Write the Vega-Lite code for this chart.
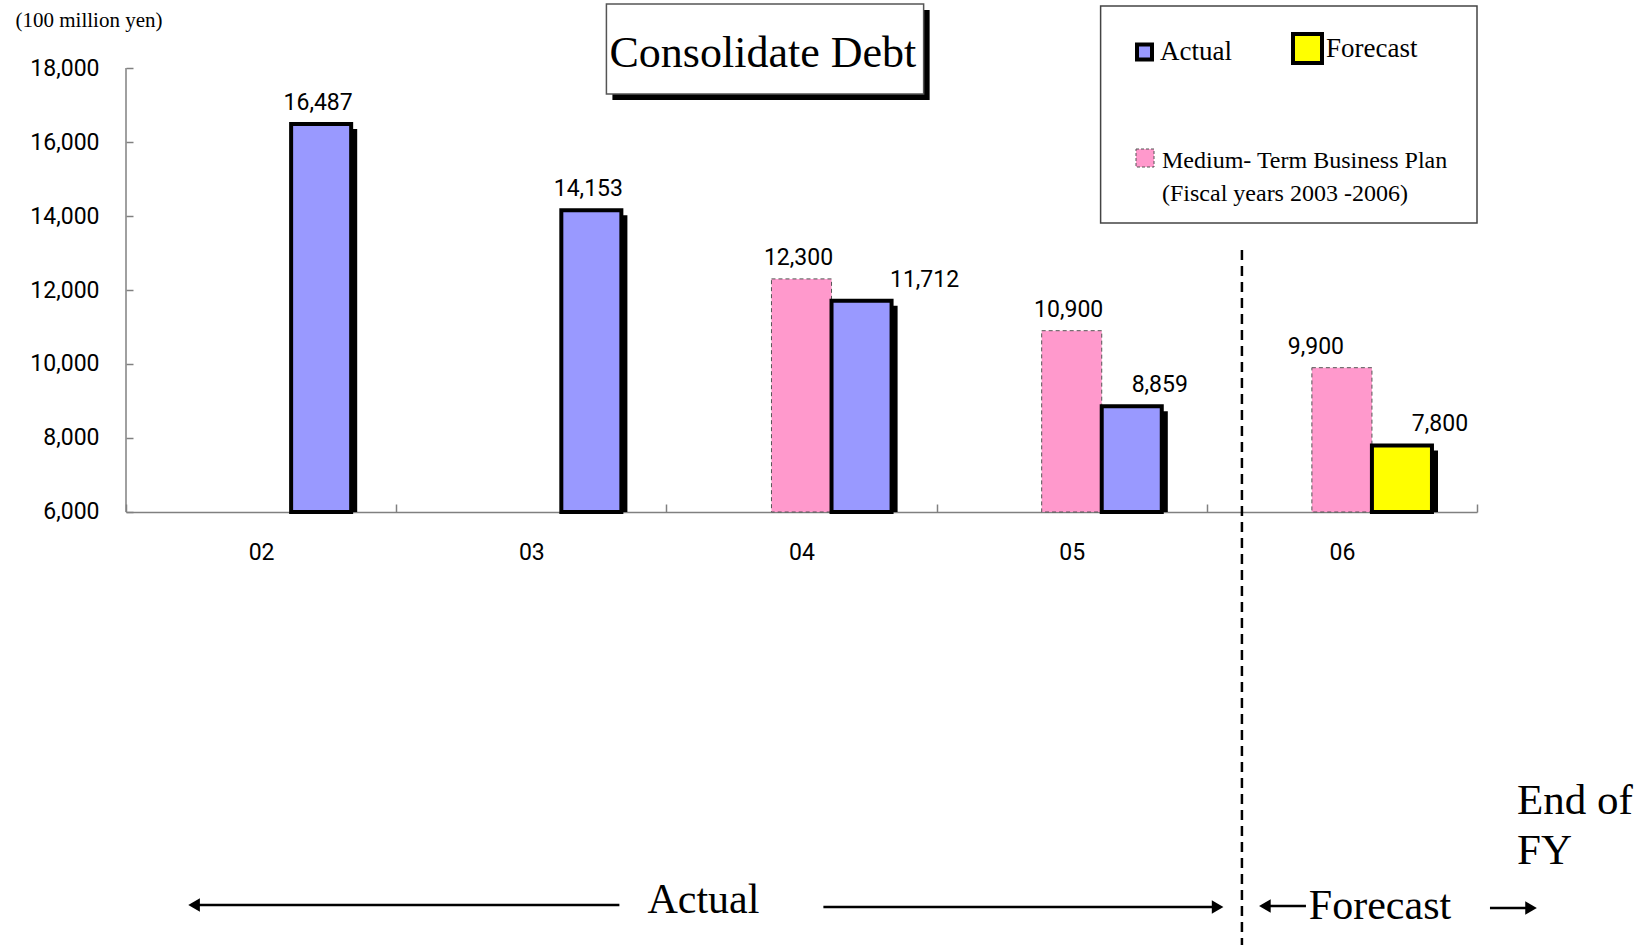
{
  "$schema": "https://vega.github.io/schema/vega-lite/v6.json",
  "width": 1351,
  "height": 945,
  "autosize": {"type": "none"},
  "padding": {"left": 126, "top": 0, "right": 168, "bottom": 0},
  "background": "white",
  "config": {"view": {"stroke": null}},
  "resolve": {"scale": {"xOffset": "independent"}},
  "data": {
    "values": [
      {"fy": "02", "series": "Actual", "kind": "Result", "value": 16487},
      {"fy": "03", "series": "Actual", "kind": "Result", "value": 14153},
      {"fy": "04", "series": "Plan", "kind": "Plan", "value": 12300},
      {"fy": "04", "series": "Actual", "kind": "Result", "value": 11712},
      {"fy": "05", "series": "Plan", "kind": "Plan", "value": 10900},
      {"fy": "05", "series": "Actual", "kind": "Result", "value": 8859},
      {"fy": "06", "series": "Plan", "kind": "Plan", "value": 9900},
      {"fy": "06", "series": "Forecast", "kind": "Result", "value": 7800}
    ]
  },
  "encoding": {
    "x": {
      "field": "fy", "type": "nominal",
      "scale": {"domain": ["02", "03", "04", "05", "06"], "paddingInner": 0, "paddingOuter": 0},
      "axis": {
        "title": null, "orient": "bottom", "offset": -433, "tickBand": "extent",
        "tickSize": -8, "tickColor": "#808080", "tickWidth": 1.5,
        "domainColor": "#808080", "domainWidth": 1.5,
        "labelFont": "Roboto", "labelFontSize": 23, "labelColor": "black",
        "labelPadding": 37, "labelAngle": 0, "grid": false
      }
    },
    "y": {
      "field": "value", "type": "quantitative",
      "scale": {"domain": [-5703, 19838], "nice": false, "zero": false},
      "axis": {
        "title": "(100 million yen)", "titleAngle": 0, "titleX": -111, "titleY": 20,
        "titleAlign": "left", "titleBaseline": "middle", "titleFont": "Liberation Serif",
        "titleFontSize": 21, "titleFontWeight": "normal", "titleColor": "black",
        "values": [6000, 8000, 10000, 12000, 14000, 16000, 18000], "format": ",d",
        "domain": false, "tickSize": -7, "tickColor": "#808080", "tickWidth": 1.5,
        "labelFont": "Roboto", "labelFontSize": 23, "labelColor": "black",
        "labelPadding": 34, "grid": false
      }
    }
  },
  "layer": [
    {
      "transform": [{"filter": "datum.fy == '02'"}],
      "mark": {"type": "rule", "color": "#808080", "strokeWidth": 1.5},
      "encoding": {
        "x": {"datum": "02", "bandPosition": 0},
        "y": {"datum": 6000},
        "y2": {"datum": 18000}
      }
    },
    {
      "transform": [{"filter": "datum.kind == 'Plan'"}],
      "mark": {"type": "bar", "stroke": "#555555", "strokeWidth": 1, "strokeDash": [4, 3]},
      "encoding": {
        "xOffset": {"field": "kind", "type": "nominal", "scale": {"type": "band", "domain": ["_", "Plan", "Result"], "paddingInner": 0, "paddingOuter": 0.75}},
        "y2": {"datum": 6000},
        "fill": {
          "field": "series", "type": "nominal",
          "scale": {"domain": ["Plan"], "range": ["#FF99CC"]},
          "legend": {
            "title": null, "orient": "none", "legendX": 1007, "legendY": 146,
            "symbolType": "square", "symbolSize": 324, "symbolStrokeColor": "#555555",
            "symbolStrokeWidth": 1, "symbolDash": [3, 2], "symbolOpacity": 1,
            "labelFont": "Liberation Serif", "labelFontSize": 24, "labelColor": "black",
            "labelOffset": 5, "labelLimit": 400, "labelBaseline": "alphabetic",
            "labelExpr": "['Medium- Term Business Plan', '(Fiscal years 2003 -2006)']",
            "encode": {"labels": {"update": {"lineHeight": {"value": 33}, "dy": {"value": 10}}}}
          }
        }
      }
    },
    {
      "transform": [{"filter": "datum.kind == 'Result'"}],
      "mark": {"type": "bar", "color": "black", "yOffset": 5},
      "encoding": {
        "xOffset": {"field": "kind", "type": "nominal", "scale": {"type": "band", "domain": ["_", "Plan", "Result"], "paddingInner": 0, "paddingOuter": 0.75, "align": 0.567}},
        "y2": {"datum": 6000}
      }
    },
    {
      "transform": [{"filter": "datum.kind == 'Result'"}],
      "mark": {"type": "bar", "stroke": "black", "strokeWidth": 4},
      "encoding": {
        "xOffset": {"field": "kind", "type": "nominal", "scale": {"type": "band", "domain": ["_", "Plan", "Result"], "paddingInner": 0, "paddingOuter": 0.75}},
        "y2": {"datum": 6000},
        "color": {
          "field": "series", "type": "nominal",
          "scale": {"domain": ["Actual", "Forecast"], "range": ["#9999FF", "#FFFF00"]},
          "legend": {
            "title": null, "orient": "none", "legendX": 1005, "legendY": 35,
            "direction": "horizontal", "columnPadding": 53,
            "symbolType": "square", "symbolSize": 225, "symbolStrokeColor": "black",
            "symbolStrokeWidth": 4, "symbolOpacity": 1,
            "labelFont": "Liberation Serif", "labelFontSize": 27, "labelColor": "black",
            "labelOffset": 2,
            "encode": {
              "symbols": {"update": {"size": {"signal": "datum.value === 'Forecast' ? 841 : 225"}}},
              "labels": {"update": {"dx": {"signal": "datum.value === 'Forecast' ? 3 : 0"}}}
            }
          }
        }
      }
    },
    {
      "transform": [{"filter": "datum.kind == 'Plan' && datum.fy != '06'"}],
      "mark": {"type": "text", "baseline": "alphabetic", "dy": -14, "dx": -3, "fontSize": 23, "font": "Roboto", "color": "black"},
      "encoding": {
        "xOffset": {"field": "kind", "type": "nominal", "scale": {"type": "band", "domain": ["_", "Plan", "Result"], "paddingInner": 0, "paddingOuter": 0.75}},
        "text": {"field": "value", "type": "quantitative", "format": ","}
      }
    },
    {
      "transform": [{"filter": "datum.kind == 'Plan' && datum.fy == '06'"}],
      "mark": {"type": "text", "baseline": "alphabetic", "dy": -14, "dx": -26, "fontSize": 23, "font": "Roboto", "color": "black"},
      "encoding": {
        "xOffset": {"field": "kind", "type": "nominal", "scale": {"type": "band", "domain": ["_", "Plan", "Result"], "paddingInner": 0, "paddingOuter": 0.75}},
        "text": {"field": "value", "type": "quantitative", "format": ","}
      }
    },
    {
      "transform": [{"filter": "datum.kind == 'Result' && (datum.fy == '02' || datum.fy == '03')"}],
      "mark": {"type": "text", "baseline": "alphabetic", "dy": -14, "dx": -3, "fontSize": 23, "font": "Roboto", "color": "black"},
      "encoding": {
        "xOffset": {"field": "kind", "type": "nominal", "scale": {"type": "band", "domain": ["_", "Plan", "Result"], "paddingInner": 0, "paddingOuter": 0.75}},
        "text": {"field": "value", "type": "quantitative", "format": ","}
      }
    },
    {
      "transform": [{"filter": "datum.kind == 'Result' && datum.fy == '04'"}],
      "mark": {"type": "text", "baseline": "alphabetic", "dy": -14, "dx": 63, "fontSize": 23, "font": "Roboto", "color": "black"},
      "encoding": {
        "xOffset": {"field": "kind", "type": "nominal", "scale": {"type": "band", "domain": ["_", "Plan", "Result"], "paddingInner": 0, "paddingOuter": 0.75}},
        "text": {"field": "value", "type": "quantitative", "format": ","}
      }
    },
    {
      "transform": [{"filter": "datum.kind == 'Result' && datum.fy == '05'"}],
      "mark": {"type": "text", "baseline": "alphabetic", "dy": -14, "dx": 28, "fontSize": 23, "font": "Roboto", "color": "black"},
      "encoding": {
        "xOffset": {"field": "kind", "type": "nominal", "scale": {"type": "band", "domain": ["_", "Plan", "Result"], "paddingInner": 0, "paddingOuter": 0.75}},
        "text": {"field": "value", "type": "quantitative", "format": ","}
      }
    },
    {
      "transform": [{"filter": "datum.kind == 'Result' && datum.fy == '06'"}],
      "mark": {"type": "text", "baseline": "alphabetic", "dy": -14, "dx": 38, "fontSize": 23, "font": "Roboto", "color": "black"},
      "encoding": {
        "xOffset": {"field": "kind", "type": "nominal", "scale": {"type": "band", "domain": ["_", "Plan", "Result"], "paddingInner": 0, "paddingOuter": 0.75}},
        "text": {"field": "value", "type": "quantitative", "format": ","}
      }
    },
    {
      "transform": [{"filter": "datum.fy == '02'"}],
      "mark": {"type": "rect", "color": "black", "xOffset": 6, "x2Offset": 6, "yOffset": 6, "y2Offset": 6},
      "encoding": {
        "x": {"datum": "03", "bandPosition": 0.778},
        "x2": {"datum": "04", "bandPosition": 0.952},
        "y": {"datum": 19730},
        "y2": {"datum": 17297}
      }
    },
    {
      "transform": [{"filter": "datum.fy == '02'"}],
      "mark": {"type": "rect", "fill": "white", "stroke": "#555555", "strokeWidth": 1.5},
      "encoding": {
        "x": {"datum": "03", "bandPosition": 0.778},
        "x2": {"datum": "04", "bandPosition": 0.952},
        "y": {"datum": 19730},
        "y2": {"datum": 17297}
      }
    },
    {
      "transform": [{"filter": "datum.fy == '02'"}],
      "mark": {"type": "text", "font": "Liberation Serif", "fontSize": 44, "align": "center", "baseline": "alphabetic", "color": "black"},
      "encoding": {
        "x": {"datum": "04", "bandPosition": 0.357},
        "y": {"datum": 18027},
        "text": {"value": "Consolidate Debt"}
      }
    },
    {
      "transform": [{"filter": "datum.fy == '02'"}],
      "mark": {"type": "rect", "fill": "white", "stroke": "#444444", "strokeWidth": 1.5},
      "encoding": {
        "x": {"datum": "05", "bandPosition": 0.607},
        "x2": {"datum": "06", "bandPosition": 1},
        "y": {"datum": 19676},
        "y2": {"datum": 13811}
      }
    },
    {
      "transform": [{"filter": "datum.fy == '02'"}],
      "mark": {"type": "rule", "color": "black", "strokeWidth": 2.5, "strokeDash": [10, 6]},
      "encoding": {
        "x": {"datum": "06", "bandPosition": 0.13},
        "y": {"datum": 13081},
        "y2": {"datum": -6000}
      }
    },
    {
      "transform": [{"filter": "datum.fy == '02'"}],
      "mark": {"type": "rule", "color": "black", "strokeWidth": 2.5},
      "encoding": {
        "x": {"datum": "02", "bandPosition": 0.252},
        "x2": {"datum": "03", "bandPosition": 0.826},
        "y": {"datum": -4622}
      }
    },
    {
      "transform": [{"filter": "datum.fy == '02'"}],
      "mark": {"type": "point", "shape": "triangle-left", "filled": true, "color": "black", "size": 180, "opacity": 1},
      "encoding": {
        "x": {"datum": "02", "bandPosition": 0.252},
        "y": {"datum": -4622}
      }
    },
    {
      "transform": [{"filter": "datum.fy == '02'"}],
      "mark": {"type": "rule", "color": "black", "strokeWidth": 2.5},
      "encoding": {
        "x": {"datum": "04", "bandPosition": 0.581},
        "x2": {"datum": "06", "bandPosition": 0.04},
        "y": {"datum": -4676}
      }
    },
    {
      "transform": [{"filter": "datum.fy == '02'"}],
      "mark": {"type": "point", "shape": "triangle-right", "filled": true, "color": "black", "size": 180, "opacity": 1},
      "encoding": {
        "x": {"datum": "06", "bandPosition": 0.04},
        "y": {"datum": -4676}
      }
    },
    {
      "transform": [{"filter": "datum.fy == '02'"}],
      "mark": {"type": "text", "font": "Liberation Serif", "fontSize": 42, "align": "center", "baseline": "middle", "color": "black"},
      "encoding": {
        "x": {"datum": "04", "bandPosition": 0.137},
        "y": {"datum": -4486},
        "text": {"value": "Actual"}
      }
    },
    {
      "transform": [{"filter": "datum.fy == '02'"}],
      "mark": {"type": "rule", "color": "black", "strokeWidth": 2.5},
      "encoding": {
        "x": {"datum": "06", "bandPosition": 0.215},
        "x2": {"datum": "06", "bandPosition": 0.367},
        "y": {"datum": -4649}
      }
    },
    {
      "transform": [{"filter": "datum.fy == '02'"}],
      "mark": {"type": "point", "shape": "triangle-left", "filled": true, "color": "black", "size": 180, "opacity": 1},
      "encoding": {
        "x": {"datum": "06", "bandPosition": 0.215},
        "y": {"datum": -4649}
      }
    },
    {
      "transform": [{"filter": "datum.fy == '02'"}],
      "mark": {"type": "text", "font": "Liberation Serif", "fontSize": 42, "align": "center", "baseline": "middle", "color": "black"},
      "encoding": {
        "x": {"datum": "06", "bandPosition": 0.641},
        "y": {"datum": -4649},
        "text": {"value": "Forecast"}
      }
    },
    {
      "transform": [{"filter": "datum.fy == '02'"}],
      "mark": {"type": "rule", "color": "black", "strokeWidth": 2.5},
      "encoding": {
        "x": {"datum": "06", "bandPosition": 1.048},
        "x2": {"datum": "06", "bandPosition": 1.2},
        "y": {"datum": -4703}
      }
    },
    {
      "transform": [{"filter": "datum.fy == '02'"}],
      "mark": {"type": "point", "shape": "triangle-right", "filled": true, "color": "black", "size": 180, "opacity": 1},
      "encoding": {
        "x": {"datum": "06", "bandPosition": 1.2},
        "y": {"datum": -4703}
      }
    },
    {
      "transform": [{"filter": "datum.fy == '02'"}],
      "mark": {"type": "text", "font": "Liberation Serif", "fontSize": 43, "align": "left", "baseline": "alphabetic", "lineHeight": 50, "color": "black"},
      "encoding": {
        "x": {"datum": "06", "bandPosition": 1.148},
        "y": {"datum": -2162},
        "text": {"value": ["End of", "FY"]}
      }
    }
  ]
}
